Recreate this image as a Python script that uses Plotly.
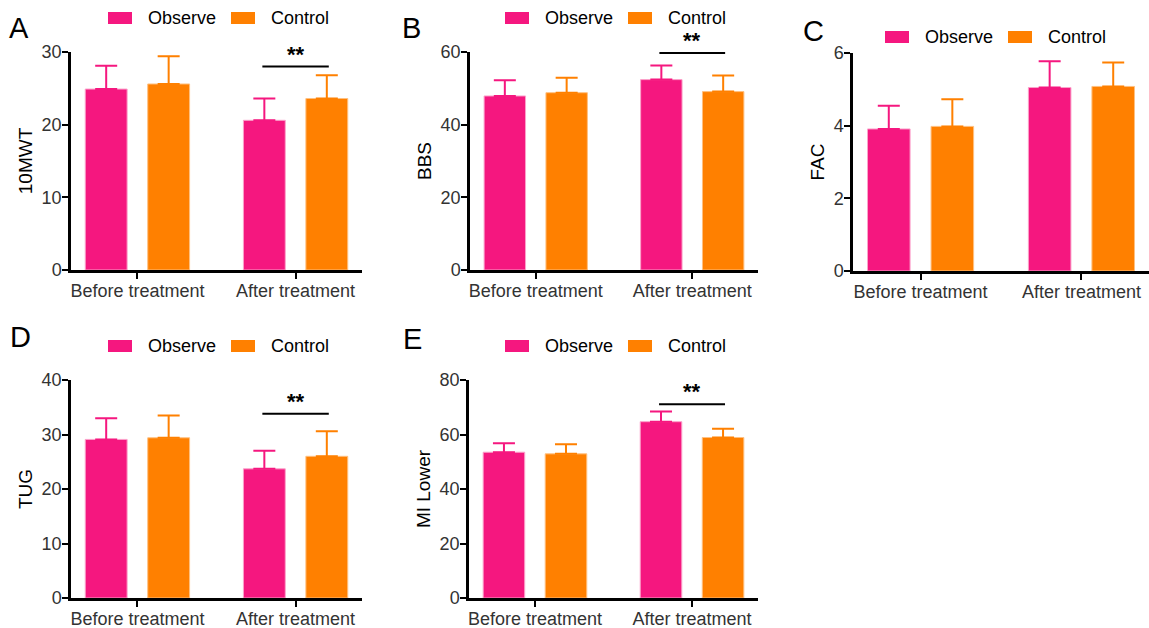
import plotly.graph_objects as go

# ---------------- data ----------------
categories = ["Before treatment", "After treatment"]
groups = ["Observe", "Control"]

mwt_observe = [24.9, 20.6]
mwt_observe_sd = [3.2, 3.0]
mwt_control = [25.6, 23.6]
mwt_control_sd = [3.8, 3.2]

bbs_observe = [47.9, 52.4]
bbs_observe_sd = [4.3, 3.9]
bbs_control = [48.8, 49.1]
bbs_control_sd = [4.1, 4.4]

fac_observe = [3.91, 5.05]
fac_observe_sd = [0.64, 0.72]
fac_control = [3.98, 5.08]
fac_control_sd = [0.75, 0.66]

tug_observe = [29.1, 23.7]
tug_observe_sd = [3.9, 3.3]
tug_control = [29.4, 26.0]
tug_control_sd = [4.1, 4.6]

mi_observe = [53.5, 64.7]
mi_observe_sd = [3.3, 3.7]
mi_control = [52.9, 58.9]
mi_control_sd = [3.5, 3.2]

panel_letters = ["A", "B", "C", "D", "E"]
y_titles = ["10MWT", "BBS", "FAC", "TUG", "MI Lower"]
y_max = [30, 60, 6, 40, 80]
y_dtick = [10, 20, 2, 10, 20]
sig_labels = ["**", "**", "", "**", "**"]
sig_levels = [28.0, 59.7, None, 33.8, 71.1]

observe_values = [mwt_observe, bbs_observe, fac_observe, tug_observe, mi_observe]
observe_sds = [mwt_observe_sd, bbs_observe_sd, fac_observe_sd, tug_observe_sd, mi_observe_sd]
control_values = [mwt_control, bbs_control, fac_control, tug_control, mi_control]
control_sds = [mwt_control_sd, bbs_control_sd, fac_control_sd, tug_control_sd, mi_control_sd]

# ---------------- layout helpers ----------------
W, H = 1149, 628
PINK = "#F5177F"
ORANGE = "#FF8000"
PINK_EDGE = "#FBA3CB"
ORANGE_EDGE = "#FFC080"
FONT = "Arial, Liberation Sans, sans-serif"


def px(x):
    return x / W


def py(y):
    return 1 - y / H


# plot-area pixel boxes (left, right, top, bottom)
boxes = [
    (71, 362, 52, 270),
    (470, 758, 52, 270),
    (853, 1149, 53, 271),
    (71, 362, 380, 598),
    (469, 758, 380, 598),
]
# legend anchor: (swatch1 left, text1 left, swatch2 left, text2 left, center y)
legend_pos = [
    (108, 146, 231, 269, 18),
    (505, 543, 628, 666, 18),
    (885, 923, 1008, 1046, 37),
    (108, 146, 231, 269, 346),
    (505, 543, 628, 666, 346),
]
letter_pos = [(19, 28), (411, 28), (813, 31), (20, 337), (412, 339)]

fig = go.Figure()
layout = dict(
    width=W,
    height=H,
    margin=dict(l=0, r=0, t=0, b=0, pad=0, autoexpand=False),
    paper_bgcolor="white",
    plot_bgcolor="white",
    barmode="group",
    bargap=0.21,
    bargroupgap=0.33,
    showlegend=False,
    font=dict(family=FONT, color="#333333"),
)
shapes = []
annotations = []

for i in range(5):
    n = "" if i == 0 else str(i + 1)
    xa, ya = "x" + n, "y" + n
    for vals, sds, color, edge, name in [
        (observe_values[i], observe_sds[i], PINK, PINK_EDGE, groups[0]),
        (control_values[i], control_sds[i], ORANGE, ORANGE_EDGE, groups[1]),
    ]:
        fig.add_trace(
            go.Bar(
                x=categories,
                y=vals,
                name=name,
                marker=dict(color=color, line=dict(color=edge, width=1)),
                error_y=dict(
                    type="data",
                    symmetric=False,
                    array=sds,
                    arrayminus=[0] * len(sds),
                    color=color,
                    thickness=2,
                    width=11,
                ),
                xaxis=xa,
                yaxis=ya,
                offsetgroup=name,
            )
        )
    l, r, t, b = boxes[i]
    layout["xaxis" + n] = dict(
        domain=[px(l), px(r)],
        anchor=ya,
        range=[-0.42, 1.42],
        automargin=False,
        showline=True,
        linecolor="black",
        linewidth=2.5,
        ticks="outside",
        ticklen=6,
        tickwidth=2,
        tickcolor="black",
        ticklabelstandoff=-3,
        tickfont=dict(size=18, color="#333333", family=FONT),
        showgrid=False,
        zeroline=False,
        fixedrange=True,
    )
    layout["yaxis" + n] = dict(
        domain=[py(b), py(t)],
        anchor=xa,
        range=[0, y_max[i]],
        dtick=y_dtick[i],
        automargin=False,
        showline=True,
        linecolor="black",
        linewidth=2.5,
        ticks="outside",
        ticklen=6,
        tickwidth=2,
        tickcolor="black",
        ticklabelstandoff=-3,
        tickfont=dict(size=18, color="#333333", family=FONT),
        title=dict(text=y_titles[i], font=dict(size=19, color="black", family=FONT), standoff=4),
        showgrid=False,
        zeroline=False,
        fixedrange=True,
    )
    # significance bar
    if sig_levels[i] is not None:
        shapes.append(
            dict(
                type="line",
                xref=xa,
                yref=ya,
                x0=0.79,
                x1=1.21,
                y0=sig_levels[i],
                y1=sig_levels[i],
                line=dict(color="black", width=2),
            )
        )
        annotations.append(
            dict(
                xref=xa,
                yref=ya,
                x=1,
                y=sig_levels[i],
                text="<b>" + sig_labels[i] + "</b>",
                showarrow=False,
                yanchor="bottom",
                yshift=-2,
                font=dict(size=22, color="black", family=FONT),
            )
        )
    # legend (custom swatches)
    s1, t1, s2, t2, cy = legend_pos[i]
    for sx, tx, color, name in [(s1, t1, PINK, groups[0]), (s2, t2, ORANGE, groups[1])]:
        shapes.append(
            dict(
                type="rect",
                xref="paper",
                yref="paper",
                x0=px(sx),
                x1=px(sx + 24),
                y0=py(cy - 6),
                y1=py(cy + 6),
                fillcolor=color,
                line=dict(width=0),
            )
        )
        annotations.append(
            dict(
                xref="paper",
                yref="paper",
                x=px(tx),
                y=py(cy),
                xanchor="left",
                yanchor="middle",
                text=name,
                showarrow=False,
                font=dict(size=18, color="black", family=FONT),
            )
        )
    # panel letter
    lx, ly = letter_pos[i]
    annotations.append(
        dict(
            xref="paper",
            yref="paper",
            x=px(lx),
            y=py(ly),
            xanchor="center",
            yanchor="middle",
            text=panel_letters[i],
            showarrow=False,
            font=dict(size=29, color="black", family=FONT),
        )
    )

layout["shapes"] = shapes
layout["annotations"] = annotations
fig.update_layout(**layout)
fig.write_html(
    "out.html",
    config={"displayModeBar": False},
    post_script="document.body.style.margin='0px';",
)
